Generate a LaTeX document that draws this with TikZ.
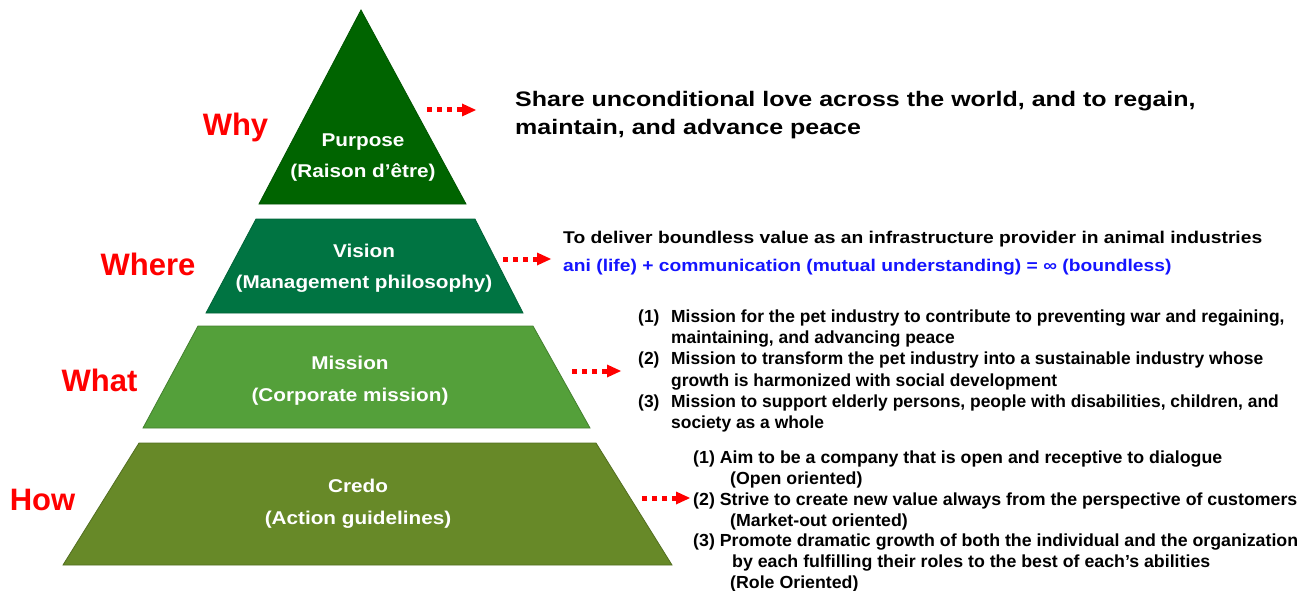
\documentclass[tikz,border=0pt]{standalone}
\usepackage{fontspec}
\setmainfont{Liberation Sans}
\newfontfamily\titlefont[FakeStretch=1.12]{Liberation Sans}
\newfontfamily\sharefont[FakeStretch=1.19]{Liberation Sans}
\newfontfamily\visionfont[FakeStretch=1.132]{Liberation Sans}
\newfontfamily\missionfont[FakeStretch=0.995]{Liberation Sans}
\newfontfamily\credofont[FakeStretch=1.015]{Liberation Sans}
\usetikzlibrary{arrows.meta}

\definecolor{purposegreen}{RGB}{0,100,0}
\definecolor{visiongreen}{RGB}{0,116,66}
\definecolor{missiongreen}{RGB}{84,160,58}
\definecolor{credogreen}{RGB}{103,137,40}
\definecolor{whyred}{RGB}{255,0,0}
\definecolor{infblue}{RGB}{20,20,255}

\begin{document}
\begin{tikzpicture}[x=1pt,y=-1pt,
  layer/.style={line width=0.8pt, line join=miter},
  layertext/.style={text=white, align=center, inner sep=0pt,
    font=\titlefont\bfseries\fontsize{18.5}{31}\selectfont},
  widetext/.style={layertext, font=\titlefont\bfseries\fontsize{18.5}{32}\selectfont},
  question/.style={text=whyred, inner sep=0pt, font=\bfseries\fontsize{31}{31}\selectfont},
  dotarrow/.style={draw=red, line width=5pt, dash pattern=on 5pt off 5pt,
    -{Triangle[length=14pt,width=13pt,line width=0pt]}},
  listtext/.style={anchor=west, align=left, inner sep=0pt,
    font=\missionfont\bfseries\fontsize{17.5}{21.2}\selectfont}
]
\useasboundingbox (0,0) rectangle (1314,591);

% pyramid layers
\filldraw[layer, fill=purposegreen, draw=purposegreen!85!black]
  (361,10) -- (466,204) -- (259,204) -- cycle;
\filldraw[layer, fill=visiongreen, draw=visiongreen!85!black]
  (256,219) -- (475,219) -- (523,313) -- (206,313) -- cycle;
\filldraw[layer, fill=missiongreen, draw=missiongreen!80!black]
  (198,326) -- (533,326) -- (590,428) -- (143,428) -- cycle;
\filldraw[layer, fill=credogreen, draw=credogreen!80!black]
  (139,443) -- (596,443) -- (672,565) -- (63,565) -- cycle;

% layer titles
\node[layertext] (purpose) at (363,158) {Purpose\\(Raison d’être)};
\node[layertext] (vision) at (364,268) {Vision\\(Management philosophy)};
\node[widetext] (mission) at (350,381) {Mission\\(Corporate mission)};
\node[widetext] (credo) at (358,504) {Credo\\(Action guidelines)};

% questions on the left
\node[question] (why) at (235.5,127) {Why};
\node[question] (where) at (148,264) {Where};
\node[question] (what) at (99.5,380) {What};
\node[question] (how) at (42.5,500) {How};

% statements on the right
\node[anchor=west, align=left, inner sep=0pt,
  font=\sharefont\bfseries\fontsize{21}{28}\selectfont] (share) at (515,115)
  {Share unconditional love across the world, and to regain,\\
   maintain, and advance peace};

\node[anchor=west, align=left, inner sep=0pt,
  font=\visionfont\bfseries\fontsize{17}{28}\selectfont] (deliver) at (563,253)
  {To deliver boundless value as an infrastructure provider in animal industries\\
   \textcolor{infblue}{ani (life) + communication (mutual understanding) = ∞ (boundless)}};

\node[listtext] (missions) at (638,371)
  {\makebox[33pt][l]{(1)}Mission for the pet industry to contribute to preventing war and regaining,\\
   \hspace*{33pt}maintaining, and advancing peace\\
   \makebox[33pt][l]{(2)}Mission to transform the pet industry into a sustainable industry whose\\
   \hspace*{33pt}growth is harmonized with social development\\
   \makebox[33pt][l]{(3)}Mission to support elderly persons, people with disabilities, children, and\\
   \hspace*{33pt}society as a whole};

\node[listtext, font=\credofont\bfseries\fontsize{17.5}{20.8}\selectfont] (credos) at (693,521.5)
  {(1) Aim to be a company that is open and receptive to dialogue\\
   \hspace*{37pt}(Open oriented)\\
   (2) Strive to create new value always from the perspective of customers\\
   \hspace*{37pt}(Market-out oriented)\\
   (3) Promote dramatic growth of both the individual and the organization\\
   \hspace*{39pt}by each fulfilling their roles to the best of each’s abilities\\
   \hspace*{37pt}(Role Oriented)};

% dotted arrows
\coordinate (pa) at (427,110);  \coordinate (pb) at (476,110);
\coordinate (va) at (503,259);  \coordinate (vb) at (551,259);
\coordinate (ma) at (572,371);  \coordinate (mb) at (621,371);
\coordinate (ca) at (642,498);  \coordinate (cb) at (690,498);
\draw[dotarrow] (pa) -- (pb);
\draw[dotarrow] (va) -- (vb);
\draw[dotarrow] (ma) -- (mb);
\draw[dotarrow] (ca) -- (cb);
\end{tikzpicture}
\end{document}
